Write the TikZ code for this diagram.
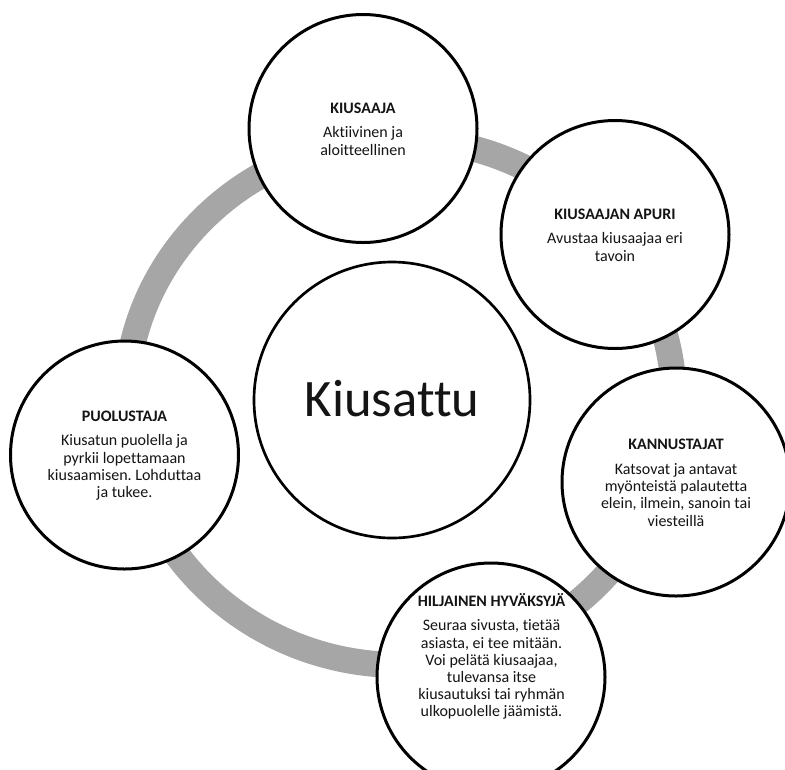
\documentclass[tikz,border=0pt]{standalone}
\usepackage{fontspec}
\setmainfont{Carlito}[Ligatures={NoCommon}]
\usepackage{array}
\definecolor{ringgray}{RGB}{166,166,166}
\definecolor{txt}{RGB}{20,20,20}
\tikzset{
  role/.style={circle, draw=black, line width=2.25pt, fill=white, inner sep=0pt, minimum size=171pt},
  rolebox/.style={anchor=base, inner sep=0pt, text=txt, font=\fontsize{12}{12.9}\selectfont},
}
\newcommand{\roletext}[2]{\begin{tabular}[t]{@{}c@{}}\textbf{#1}\\[5.8pt] #2\end{tabular}}
\begin{document}
\frenchspacing
\begin{tikzpicture}[x=0.75pt,y=-0.75pt]
\useasboundingbox (0,0) rectangle (785,769);
\fill[white] (0,0) rectangle (785,769);
% ring
\draw[ringgray, line width=19.5pt] (400,402) ellipse [x radius=274, y radius=263];
% circles
\node[role] (c1) at (363,128.5) {};
\node[role] (c2) at (615,234.5) {};
\node[role] (c3) at (124.5,455) {};
\node[role] (c4) at (676,482) {};
\node[role] (c5) at (491,677) {};
\node[role, line width=2pt, minimum size=207pt] (c0) at (392,400) {};
% texts
\node[anchor=base, inner sep=0pt, text=txt, font=\fontsize{39.5}{44}\selectfont] (t0) at (392,416) {Kiusattu};
\node[rolebox] (t1) at (363,113) {\roletext{KIUSAAJA}{Aktiivinen ja\\ aloitteellinen}};
\node[rolebox] (t2) at (615,219) {\roletext{KIUSAAJAN APURI}{Avustaa kiusaajaa eri\\ tavoin}};
\node[rolebox] (t3) at (124.5,421) {\roletext{PUOLUSTAJA}{Kiusatun puolella ja\\ pyrkii lopettamaan\\ kiusaamisen. Lohduttaa\\ ja tukee.}};
\node[rolebox] (t4) at (676,449.5) {\roletext{KANNUSTAJAT}{Katsovat ja antavat\\ myönteistä palautetta\\ elein, ilmein, sanoin tai\\ viesteillä}};
\node[rolebox] (t5) at (491.5,606) {\roletext{HILJAINEN HYVÄKSYJÄ}{Seuraa sivusta, tietää\\ asiasta, ei tee mitään.\\ Voi pelätä kiusaajaa,\\ tulevansa itse\\ kiusautuksi tai ryhmän\\ ulkopuolelle jäämistä.}};
\end{tikzpicture}
\end{document}
